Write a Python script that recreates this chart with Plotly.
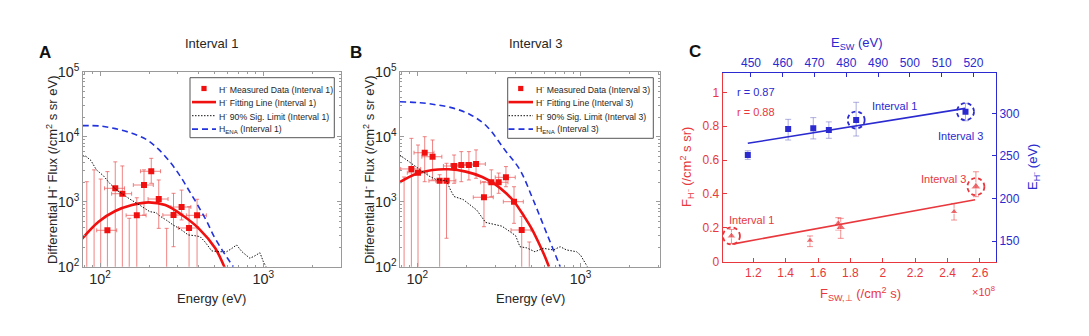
import plotly.graph_objects as go

W, H = 1089, 336
FONT = "Liberation Sans, Arial, sans-serif"

# ---------------- Panel A (Interval 1) ----------------
a_energy = [111, 124, 137, 168, 186, 206, 229, 282, 316, 351, 393]
a_flux = [363, 1607, 1327, 617, 1807, 2937, 1100, 623, 828, 394, 617]
a_flux_hi = [2900, 4100, 3550, 1150, 3090, 4650, 2160, 1346, 1510, 837, 1090]
a_flux_lo = [10, 10, 10, 10, 623, 1920, 389, 203, 524, 10, 10]
a_hidden_energy = [83, 92, 101, 151, 256]
a_hidden_flux = [50, 50, 50, 50, 50]
a_hidden_hi = [2030, 3090, 2230, 556, 389]
a_fit_e = [77.5, 98, 124, 157, 199, 251, 318, 402, 508, 571, 600]
a_fit_f = [267, 492, 719, 889, 978, 889, 624, 389, 192, 106, 80]
a_sig_e = [78, 82, 88, 95, 105, 115, 127, 139, 152, 168, 185, 202, 220, 233, 255, 281,
           310, 347, 381, 410, 440, 483, 540, 596, 640, 686, 740, 827, 880, 954, 1000, 1040]
a_sig_f = [5100, 5000, 4300, 3100, 2500, 1900, 1500, 1270, 1100, 945, 820, 702, 680, 600,
           520, 437, 380, 308, 300, 290, 240, 175, 170, 170, 190, 216, 170, 135, 145, 164, 120, 100]
a_ena_e = [78, 100, 124, 157, 193, 227, 270, 309, 350, 395, 450, 500, 560, 610, 655]
a_ena_f = [14800, 14600, 13300, 11300, 9000, 6500, 4000, 2500, 1500, 900, 500, 290, 180, 130, 100]

# ---------------- Panel B (Interval 3) ----------------
b_energy = [92, 101, 111, 124, 137, 151, 168, 186, 207, 229, 256, 284, 315, 349, 391, 436]
b_flux = [3190, 2790, 5670, 4920, 2100, 2100, 3540, 3670, 3670, 3800, 1170, 1990, 1990, 2370, 1000, 367]
b_flux_hi = [9440, 7450, 10000, 8900, 2600, 3900, 5230, 5890, 5890, 6260, 2030, 3090, 2760, 3470, 1700, 590]
b_flux_lo = [10, 10, 2030, 2160, 10, 274, 1920, 2030, 2160, 2290, 412, 1195, 1346, 1700, 465, 10]
b_hidden_energy = [83, 485]
b_hidden_flux = [50, 50]
b_hidden_hi = [2400, 240]
b_fit_e = [77, 98, 124, 156, 198, 250, 300, 350, 392, 450, 506, 560, 600, 640]
b_fit_f = [1960, 2670, 3080, 3150, 2900, 2400, 1850, 1350, 1000, 600, 370, 220, 150, 100]
b_sig_e = [78, 89, 104, 118, 130, 151, 160, 168, 191, 210, 231, 262, 300, 330, 370, 400,
           425, 467, 525, 590, 681, 750, 820, 945, 1000, 1063, 1100]
b_sig_f = [5230, 4120, 3100, 2480, 2200, 2100, 1500, 1200, 1080, 900, 745, 480, 437, 420,
           345, 300, 203, 195, 170, 192, 181, 203, 181, 170, 150, 113, 100]
b_ena_e = [78, 104, 130, 166, 210, 266, 344, 425, 513, 620, 750]
b_ena_f = [34500, 33300, 31000, 27500, 22000, 14500, 6240, 3090, 1060, 326, 100]

# ---------------- Panel C ----------------
c_fsw = [1.065, 1.55, 1.725, 1.74, 2.44, 2.575]          # x 1e8 /cm2 s
c_fh = [0.152, 0.125, 0.225, 0.203, 0.295, 0.443]
c_fh_hi = [0.19, 0.152, 0.26, 0.256, 0.344, 0.531]
c_fh_lo = [0.108, 0.089, 0.187, 0.138, 0.246, 0.384]
c_fh_fit_x = [1.07, 2.57]
c_fh_fit_y = [0.104, 0.366]
c_esw = [449, 461.7, 469.6, 474.5, 483.1, 517.5]
c_eh = [251, 281.6, 282.4, 280.4, 292.2, 302]
c_eh_hi = [256, 293, 295, 290, 313, 311.8]
c_eh_lo = [246, 268.7, 270, 270.7, 273.4, 291.3]
c_eh_fit_x = [449, 517.4]
c_eh_fit_y = [264.8, 305.9]
red_circled = [0, 5]
blue_circled = [4, 5]

# ---------------- styling / layout helpers ----------------
RED = "#f01010"
PINK = "rgba(235,90,90,0.75)"
BLUE = "#2233dd"
CRED = "#e8383d"
CBLUE = "#2a2ad0"
GRAY = "#9a9a9a"
TXT = "#262626"


def px(x):
    return x / W


def py(y):
    return 1 - y / H


def up(v, hi):
    return [h - x for x, h in zip(v, hi)]


def dn(v, lo):
    return [x - l for x, l in zip(v, lo)]


fig = go.Figure()

STYLE_FIT = dict(color=RED, width=2.6)
STYLE_SIG = dict(color="#111111", width=1, dash="1.5px,1.5px")
STYLE_ENA = dict(color=BLUE, width=1.6, dash="6px,4px")


def add_panel(xa, ya, e, f, fhi, flo, he, hf, hhi, fe, ff, se, sf, ee, ef):
    fig.add_trace(go.Scatter(
        x=he, y=hf, mode="markers", xaxis=xa, yaxis=ya, showlegend=False,
        marker=dict(size=1, color="rgba(0,0,0,0)"),
        error_y=dict(type="data", array=up(hf, hhi), arrayminus=[v * 0.5 for v in hf],
                     color=PINK, thickness=1, width=2)))
    fig.add_trace(go.Scatter(
        x=e, y=f, mode="markers", xaxis=xa, yaxis=ya, showlegend=False,
        marker=dict(symbol="square", size=6, color=RED),
        error_y=dict(type="data", array=up(f, fhi), arrayminus=dn(f, flo),
                     color=PINK, thickness=1, width=2),
        error_x=dict(type="percent", value=14, color=PINK, thickness=1, width=2)))
    fig.add_trace(go.Scatter(x=fe, y=ff, mode="lines", xaxis=xa, yaxis=ya, showlegend=False,
                             line=dict(shape="spline", **STYLE_FIT)))
    fig.add_trace(go.Scatter(x=se, y=sf, mode="lines", xaxis=xa, yaxis=ya, showlegend=False,
                             line=STYLE_SIG))
    fig.add_trace(go.Scatter(x=ee, y=ef, mode="lines", xaxis=xa, yaxis=ya, showlegend=False,
                             line=dict(shape="spline", **STYLE_ENA)))


add_panel("x", "y", a_energy, a_flux, a_flux_hi, a_flux_lo,
          a_hidden_energy, a_hidden_flux, a_hidden_hi, a_fit_e, a_fit_f,
          a_sig_e, a_sig_f, a_ena_e, a_ena_f)
add_panel("x2", "y2", b_energy, b_flux, b_flux_hi, b_flux_lo,
          b_hidden_energy, b_hidden_flux, b_hidden_hi, b_fit_e, b_fit_f,
          b_sig_e, b_sig_f, b_ena_e, b_ena_f)

# Panel C traces
fig.add_trace(go.Scatter(
    x=c_fsw, y=c_fh, mode="markers", xaxis="x3", yaxis="y3", showlegend=False,
    marker=dict(symbol="triangle-up", size=[8, 7, 8, 9, 7, 9], color=CRED),
    error_y=dict(type="data", array=up(c_fh, c_fh_hi), arrayminus=dn(c_fh, c_fh_lo),
                 color="rgba(232,56,61,0.55)", thickness=1, width=3)))
fig.add_trace(go.Scatter(
    x=c_fh_fit_x, y=c_fh_fit_y, mode="lines", xaxis="x3", yaxis="y3", showlegend=False,
    line=dict(color=CRED, width=1.6)))
fig.add_trace(go.Scatter(
    x=c_esw, y=c_eh, mode="markers", xaxis="x4", yaxis="y4", showlegend=False,
    marker=dict(symbol="square", size=6, color=CBLUE),
    error_y=dict(type="data", array=up(c_eh, c_eh_hi), arrayminus=dn(c_eh, c_eh_lo),
                 color="rgba(120,120,200,0.6)", thickness=1, width=3)))
fig.add_trace(go.Scatter(
    x=c_eh_fit_x, y=c_eh_fit_y, mode="lines", xaxis="x4", yaxis="y4", showlegend=False,
    line=dict(color=CBLUE, width=1.6)))

shapes = []
R = 8.5
for i in red_circled:
    shapes.append(dict(type="circle", xref="x3", yref="y3", xsizemode="pixel", ysizemode="pixel",
                       xanchor=c_fsw[i], yanchor=c_fh[i], x0=-R, x1=R, y0=-R, y1=R,
                       line=dict(color=CRED, width=1.8, dash="4px,3px")))
for i in blue_circled:
    shapes.append(dict(type="circle", xref="x4", yref="y4", xsizemode="pixel", ysizemode="pixel",
                       xanchor=c_esw[i], yanchor=c_eh[i], x0=-R, x1=R, y0=-R, y1=R,
                       line=dict(color=CBLUE, width=1.8, dash="4px,3px")))

annotations = []

# ---------------- legends (drawn compactly, MATLAB style) ----------------
def legend_box(x0, y0, x1, y1, sx0, sx1, tx, label):
    shapes.append(dict(type="rect", xref="paper", yref="paper", x0=px(x0), x1=px(x1),
                       y0=py(y1), y1=py(y0), fillcolor="white",
                       line=dict(color="#555555", width=1), layer="above"))
    rows = [y0 + 10.8, y0 + 24.4, y0 + 38.0, y0 + 51.4]
    cx = (sx0 + sx1) / 2
    shapes.append(dict(type="rect", xref="paper", yref="paper", x0=px(cx - 2.6), x1=px(cx + 2.6),
                       y0=py(rows[0] + 2.6), y1=py(rows[0] - 2.6), fillcolor=RED,
                       line=dict(width=0), layer="above"))
    for r, st in zip(rows[1:], [STYLE_FIT, STYLE_SIG, STYLE_ENA]):
        shapes.append(dict(type="line", xref="paper", yref="paper", x0=px(sx0), x1=px(sx1),
                           y0=py(r), y1=py(r), line=st, layer="above"))
    texts = [f"H<sup>-</sup> Measured Data ({label})",
             f"H<sup>-</sup> Fitting Line ({label})",
             f"H<sup>-</sup> 90% Sig. Limit ({label})",
             f"H<sub>ENA</sub> ({label})"]
    for r, t in zip(rows, texts):
        annotations.append(dict(x=px(tx), y=py(r), xref="paper", yref="paper", text=t,
                                showarrow=False, xanchor="left", yanchor="middle",
                                font=dict(size=8.7, color=TXT, family=FONT)))


legend_box(190, 77.7, 334.3, 137.7, 192, 216, 217, "Interval 1")
legend_box(507.7, 77.7, 653.3, 138.3, 508.5, 533, 534, "Interval 3")


# ---------------- axes ----------------
def log_axis(dom, anchor, lo, hi):
    return dict(type="log", domain=dom, anchor=anchor, range=[lo, hi], dtick=1, automargin=False,
                exponentformat="power", showline=True, linecolor=GRAY, linewidth=1,
                mirror="ticks", ticks="inside", ticklen=4, tickcolor=GRAY,
                tickfont=dict(size=11.5, color=TXT, family=FONT), showgrid=False, zeroline=False,
                minor=dict(ticks="inside", ticklen=2, tickcolor=GRAY, dtick="D1", showgrid=False))


def lin_axis(color, **kw):
    d = dict(showline=True, linecolor=color, ticks="inside", ticklen=4, tickcolor=color,
             automargin=False, tickfont=dict(size=12, color=color, family=FONT),
             showgrid=False, zeroline=False, tick0=0)
    d.update(kw)
    return d


dec = 163.3
yab = [py(266.7), py(71.7)]
xa_dom = [px(82.7), px(340.5)]
xb_dom = [px(400), px(660)]
xc_dom = [px(722.7), px(996)]
yc_dom = [py(261.7), py(72.7)]

layout = dict(
    width=W, height=H, margin=dict(l=0, r=0, t=0, b=0, autoexpand=False),
    paper_bgcolor="white", plot_bgcolor="white", showlegend=False,
    font=dict(family=FONT, color=TXT),
    xaxis=log_axis(xa_dom, "y", 2 - (100 - 82.7) / dec, 2 + (340.5 - 100) / dec),
    yaxis=log_axis(yab, "x", 2, 5),
    xaxis2=log_axis(xb_dom, "y2", 2 - (417.3 - 400) / dec, 2 + (660 - 417.3) / dec),
    yaxis2=log_axis(yab, "x2", 2, 5),
    xaxis3=lin_axis(CRED, domain=xc_dom, anchor="y3", range=[1.011, 2.699], dtick=0.2),
    yaxis3=lin_axis(CRED, domain=yc_dom, anchor="x3", range=[0, 1.116], dtick=0.2),
    xaxis4=lin_axis(CBLUE, overlaying="x3", anchor="y3", side="top", range=[441.1, 527.1], dtick=10),
    yaxis4=lin_axis(CBLUE, overlaying="y3", anchor="x3", side="right", range=[125.7, 347.8], dtick=50),
    shapes=shapes,
)


def ann(x, y, text, size=13, color=TXT, angle=0, bold=False, xanchor="center"):
    return dict(x=px(x), y=py(y), xref="paper", yref="paper", text=f"<b>{text}</b>" if bold else text,
                showarrow=False, textangle=angle, xanchor=xanchor, yanchor="middle",
                font=dict(size=size, color=color, family=FONT))


annotations += [
    ann(45, 52, "A", 17, "#111", bold=True),
    ann(356, 52, "B", 17, "#111", bold=True),
    ann(695, 51, "C", 17, "#111", bold=True),
    ann(212, 44, "Interval 1", 13),
    ann(535, 44, "Interval 3", 13),
    ann(212, 298, "Energy (eV)", 13),
    ann(530, 298, "Energy (eV)", 13),
    ann(52, 170, "Differential H<sup>-</sup> Flux (/cm<sup>2</sup> s sr eV)", 13, angle=-90),
    ann(369, 170, "Differential H<sup>-</sup> Flux (/cm<sup>2</sup> s sr eV)", 13, angle=-90),
    ann(857, 43, "E<sub>SW</sub> (eV)", 13, CBLUE),
    ann(860, 294, "F<sub>SW,⊥</sub> (/cm<sup>2</sup> s)", 13, CRED),
    ann(687, 167, "F<sub>H⁻</sub> (/cm<sup>2</sup> s sr)", 13, CRED, angle=-90),
    ann(1033, 167, "E<sub>H⁻</sub> (eV)", 13, CBLUE, angle=-90),
    ann(983, 291, "×10<sup>8</sup>", 11, CRED),
    ann(735, 92, "r = 0.87", 11, CBLUE, xanchor="left"),
    ann(735, 112, "r = 0.88", 11, CRED, xanchor="left"),
    ann(894, 106, "Interval 1", 11, CBLUE),
    ann(960, 136, "Interval 3", 11, CBLUE),
    ann(943, 179, "Interval 3", 11, CRED),
    ann(751, 220, "Interval 1", 11, CRED),
]
layout["annotations"] = annotations
fig.update_layout(**layout)
fig.write_html("out.html")
